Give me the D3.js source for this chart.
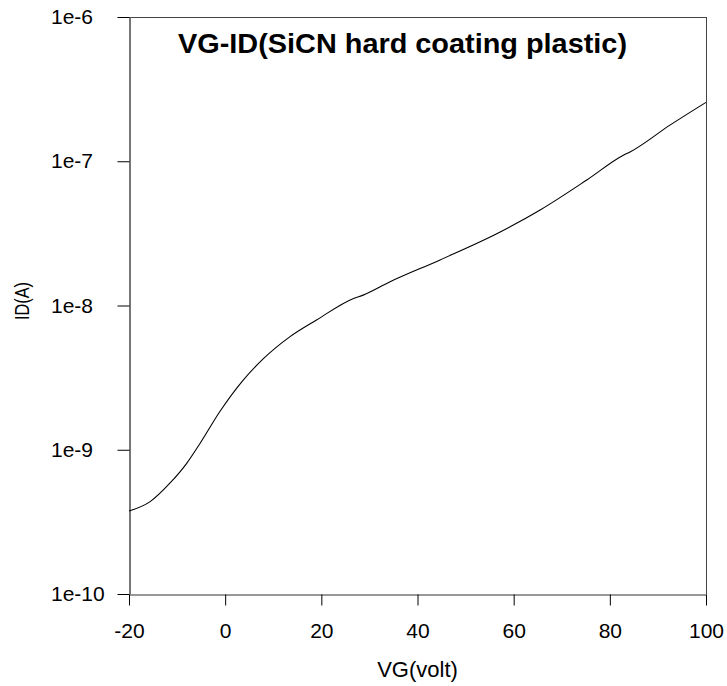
<!DOCTYPE html>
<html><head><meta charset="utf-8">
<script src="https://cdn.jsdelivr.net/npm/d3@7"></script>
<style>body{margin:0;background:#fff}svg{display:block}text{font-family:"Liberation Sans",Arial,sans-serif}</style>
</head><body>
<script>
const vg = [-20, -15.6, -11.5, -8.0, -5.2, -1.1, 3.8, 7.9, 13.5, 19.0, 26.7, 28.7, 34.3, 44.7, 57.2, 65.5, 75.2, 82.8, 84.2, 92.5, 100];
const id = [3.76e-10, 4.37e-10, 5.86e-10, 8.05e-10, 1.11e-9, 1.84e-9, 3.05e-9, 4.26e-9, 6.08e-9, 7.93e-9, 1.12e-8, 1.18e-8, 1.46e-8, 2.07e-8, 3.23e-8, 4.59e-8, 7.41e-8, 1.10e-7, 1.16e-7, 1.78e-7, 2.56e-7];
const xTicks = [-20, 0, 20, 40, 60, 80, 100];
const yTicks = [1e-10, 1e-9, 1e-8, 1e-7, 1e-6];
const yTickLabels = ["1e-10", "1e-9", "1e-8", "1e-7", "1e-6"];
const title = "VG-ID(SiCN hard coating plastic)";
const xTitle = "VG(volt)";
const yTitle = "ID(A)";

const W = 727, H = 686;
const L = 129, R = 706, T = 17, B = 594;
const svg = d3.select("body").append("svg").attr("width", W).attr("height", H);
const x = d3.scaleLinear().domain([-20, 100]).range([L, R]);
const y = d3.scaleLog().domain([1e-10, 1e-6]).range([B, T]);

// frame top & right
svg.append("line").attr("x1", L).attr("x2", R).attr("y1", T + 0.5).attr("y2", T + 0.5).attr("stroke", "#444");
svg.append("line").attr("x1", R + 0.5).attr("x2", R + 0.5).attr("y1", T).attr("y2", B).attr("stroke", "#444");

const xa = svg.append("g").attr("transform", `translate(0,${B + 0.5})`)
  .call(d3.axisBottom(x).tickValues(xTicks).tickSize(11).tickPadding(17.5).tickSizeOuter(0).tickFormat(d => String(d)));
xa.select(".domain").attr("stroke", "#333");
xa.selectAll("text").attr("font-size", 21).attr("fill", "#000");

const ya = svg.append("g").attr("transform", `translate(${L + 0.5},0)`)
  .call(d3.axisLeft(y).tickValues(yTicks).tickSize(12).tickPadding(24).tickSizeOuter(0).tickFormat((d, i) => yTickLabels[i]));
ya.select(".domain").attr("stroke", "#777").attr("stroke-width", 2);
ya.selectAll("text").attr("font-size", 21).attr("fill", "#000")
  .attr("text-anchor", "start").attr("x", 51 - L - 0.5);

const line = d3.line().x((d, i) => x(vg[i])).y(d => y(d)).curve(d3.curveMonotoneX);
svg.append("path").datum(id).attr("d", line).attr("fill", "none").attr("stroke", "#000").attr("stroke-width", 1.1);

svg.append("text").attr("x", 402.5).attr("y", 53).attr("text-anchor", "middle")
  .attr("font-size", 27).attr("font-weight", "bold")
  .attr("textLength", 449).attr("lengthAdjust", "spacingAndGlyphs").text(title);
svg.append("text").attr("x", (L + R) / 2).attr("y", 677).attr("text-anchor", "middle")
  .attr("font-size", 22).text(xTitle);
svg.append("text").attr("transform", `translate(29,301) rotate(-90)`).attr("text-anchor", "middle")
  .attr("font-size", 21).attr("textLength", 38).attr("lengthAdjust", "spacingAndGlyphs").text(yTitle);
</script>
</body></html>
